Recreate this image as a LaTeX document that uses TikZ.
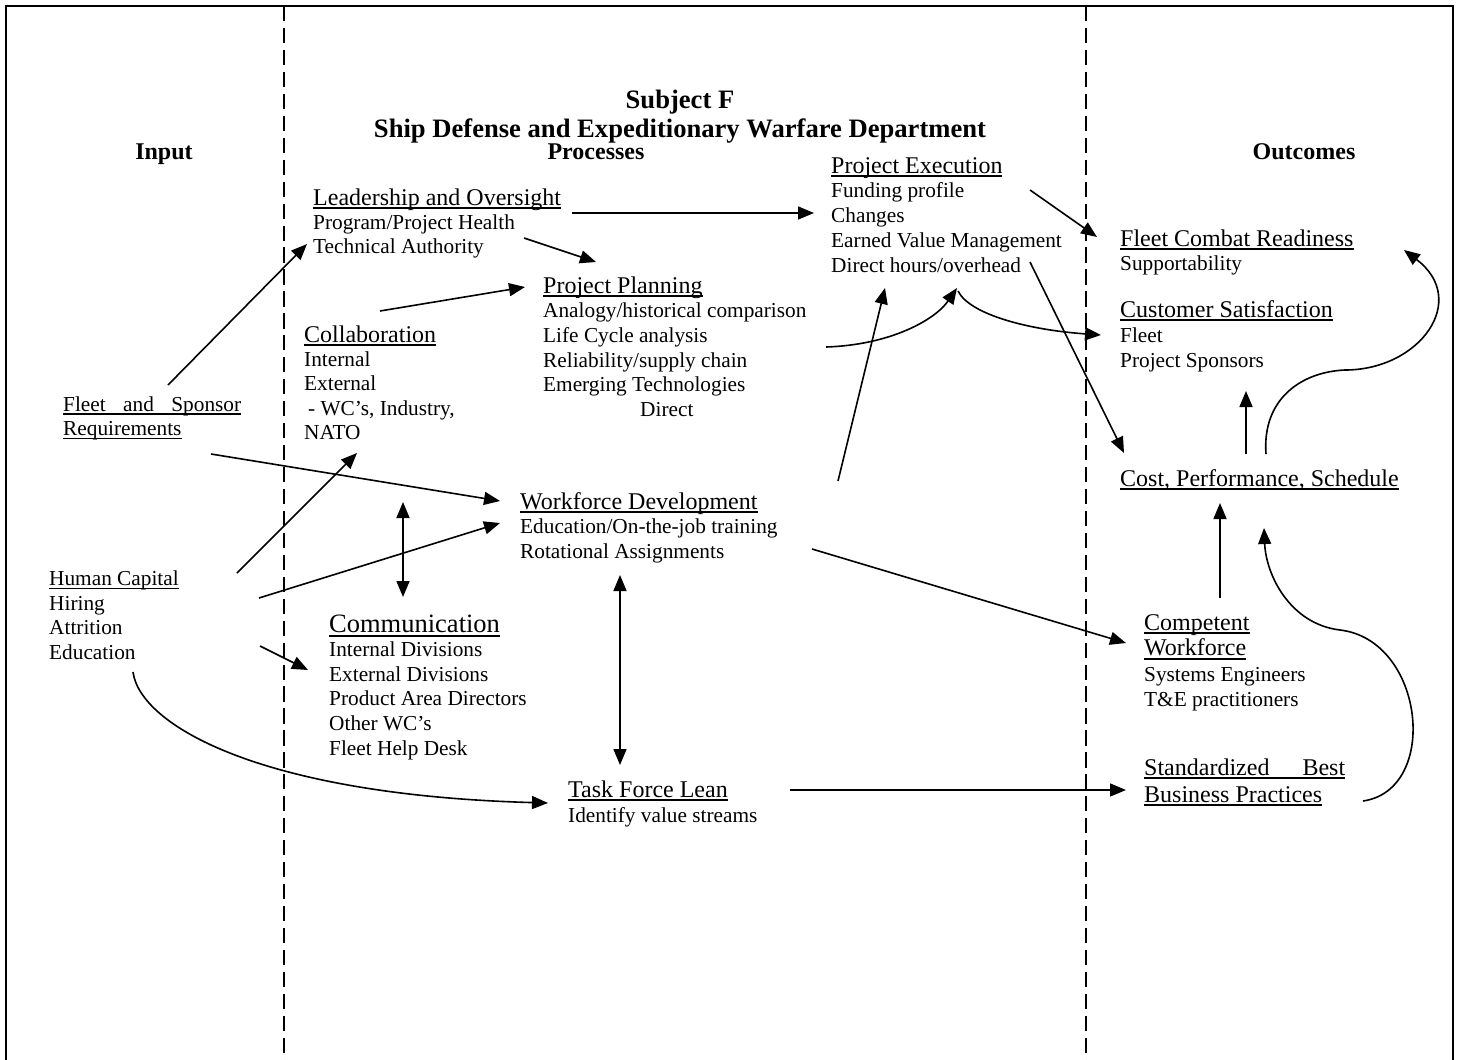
\documentclass[tikz,border=0pt]{standalone}
\usepackage{fontspec}
\setmainfont{Liberation Serif}
\usetikzlibrary{arrows.meta}

% text sizes (1pt of the picture = 1 unit)
\newcommand\txtbody{\fontsize{21.3}{24.5}\selectfont}
\newcommand\txthead{\fontsize{24}{27}\selectfont}
\newcommand\txtbig{\fontsize{26.5}{30}\selectfont}
\newcommand\txttitle{\fontsize{26.6}{30}\selectfont\bfseries}
\newcommand\txtcol{\fontsize{24}{27}\selectfont\bfseries}

% underline at a fixed depth below the baseline
\newcommand\undl[1]{\setbox0=\hbox{#1}\rlap{\rule[-0.17em]{\wd0}{0.075em}}\box0}
% left-aligned lines whose baseline is that of the first line
\newcommand\linesblock[2]{\vtop{\baselineskip=#1\lineskiplimit=-100pt\lineskip=0pt\halign{##\hfil\cr#2\crcr}}}

\begin{document}
\begin{tikzpicture}[x=1pt,y=-1pt,
  txt/.style={inner sep=0pt, anchor=base west, font=\txtbody},
  colhead/.style={inner sep=0pt, anchor=base, font=\txtcol},
  arr/.style={line width=1.6pt, -{Triangle[length=16pt,width=13pt]}},
  darr/.style={line width=1.6pt, {Triangle[length=16pt,width=13pt]}-{Triangle[length=16pt,width=13pt]}},
  divider/.style={line width=2pt, dash pattern=on 15.2pt off 6.75pt}]
\useasboundingbox (0,0) rectangle (1460,1060);

% frame, open at the bottom
\draw[line width=2.2pt] (6,1060) -- (6,6) -- (1453,6) -- (1453,1060);
% column dividers
\draw[divider] (284,6) -- (284,1060);
\draw[divider] (1086,6) -- (1086,1060);

% title
\node[inner sep=0pt, anchor=base, font=\txttitle] (title1) at (680,108) {Subject F};
\node[inner sep=0pt, anchor=base, font=\txttitle] (title2) at (680,137) {Ship Defense and Expeditionary Warfare Department};

% column headings
\node[colhead] (colin) at (164,159) {Input};
\node[colhead] (colproc) at (596,159) {Processes};
\node[colhead] (colout) at (1304,159) {Outcomes};

% inputs
\node[txt] (fsr) at (63,411) {\linesblock{24.5pt}{\undl{\hbox to 178pt{Fleet\hfil and\hfil Sponsor}}\cr\undl{Requirements}}};
\node[txt] (hc) at (49,585.5) {\linesblock{24.6pt}{\undl{Human Capital}\cr Hiring\cr Attrition\cr Education}};

% processes
\node[txt] (lead) at (313,205) {\linesblock{24.4pt}{{\txthead\undl{Leadership and Oversight}}\cr Program/Project Health\cr Technical Authority}};
\node[txt] (plan) at (543,293) {\linesblock{24.7pt}{{\txthead\undl{Project Planning}}\cr Analogy/historical comparison\cr Life Cycle analysis\cr Reliability/supply chain\cr Emerging Technologies\cr\hskip97pt Direct}};
\node[txt] (exec) at (831,173) {\linesblock{24.75pt}{{\txthead\undl{Project Execution}}\cr Funding profile\cr Changes\cr Earned Value Management\cr Direct hours/overhead}};
\node[txt] (collab) at (304,342) {\linesblock{24.4pt}{{\txthead\undl{Collaboration}}\cr Internal\cr External\cr\hskip4pt - WC’s, Industry,\cr NATO}};
\node[txt] (wfd) at (520,509) {\linesblock{24.8pt}{{\txthead\undl{Workforce Development}}\cr Education/On-the-job training\cr Rotational Assignments}};
\node[txt] (comm) at (329,632) {\linesblock{24.6pt}{{\txtbig\undl{Communication}}\cr Internal Divisions\cr External Divisions\cr Product Area Directors\cr Other WC’s\cr Fleet Help Desk}};
\node[txt] (tfl) at (568,797) {\linesblock{25pt}{{\txthead\undl{Task Force Lean}}\cr Identify value streams}};

% outcomes
\node[txt] (fcr) at (1120,246) {\linesblock{24.5pt}{{\txthead\undl{Fleet Combat Readiness}}\cr Supportability}};
\node[txt] (cs) at (1120,317) {\linesblock{25pt}{{\txthead\undl{Customer Satisfaction}}\cr Fleet\cr Project Sponsors}};
\node[txt] (cps) at (1120,486) {{\txthead\undl{Cost, Performance, Schedule}}};
\node[txt] (cw) at (1144,630) {\linesblock{25.5pt}{{\txthead\undl{Competent}}\cr{\txthead\undl{Workforce}}\cr Systems Engineers\cr T\&E practitioners}};
\node[txt] (sbp) at (1144,775) {\linesblock{27pt}{{\txthead\undl{\hbox to 201pt{Standardized\hfil Best}}}\cr{\txthead\undl{Business Practices}}}};

% connector ends
\coordinate (fsrA) at (168,385);   \coordinate (leadIn) at (307,244);
\coordinate (fsrB) at (211,454);   \coordinate (wfdIn1) at (500,501);
\coordinate (hcA) at (237,573);    \coordinate (collabIn) at (357,453);
\coordinate (hcB) at (259,598);    \coordinate (wfdIn2) at (500,523);
\coordinate (hcC) at (260,646);    \coordinate (commIn) at (308,670);
\coordinate (hcD) at (133,672);    \coordinate (tflIn) at (548,803);
\coordinate (collabOut) at (403,502); \coordinate (commTop) at (403,597);
\coordinate (wfdOut) at (620,575); \coordinate (tflTop) at (620,765);
\coordinate (leadA) at (572,213);  \coordinate (execIn1) at (814,213);
\coordinate (leadB) at (524,238);  \coordinate (planIn1) at (596,262);
\coordinate (collabA) at (380,311); \coordinate (planIn2) at (525,287);
\coordinate (planA) at (826,347);  \coordinate (execIn3) at (957,288);
\coordinate (execC) at (958,291);  \coordinate (csIn) at (1101,335);
\coordinate (wfdA) at (838,481);   \coordinate (execIn2) at (885,288);
\coordinate (execA) at (1030,190); \coordinate (fcrIn) at (1097,237);
\coordinate (execB) at (1030,262); \coordinate (cpsIn1) at (1124,453);
\coordinate (cpsA) at (1246,454);  \coordinate (csBot) at (1246,391);
\coordinate (cpsB) at (1266,454);  \coordinate (fcrBack) at (1404,250);
\coordinate (cwTop) at (1220,598); \coordinate (cpsIn2) at (1220,503);
\coordinate (sbpA) at (1363,801);  \coordinate (cpsIn3) at (1264,528);
\coordinate (wfdB) at (812,549);   \coordinate (cwIn) at (1126,643);
\coordinate (tflA) at (790,790);   \coordinate (sbpIn) at (1126,790);

% connectors
\draw[arr] (fsrA) -- (leadIn);
\draw[arr] (fsrB) -- (wfdIn1);
\draw[arr] (hcA) -- (collabIn);
\draw[arr] (hcB) -- (wfdIn2);
\draw[arr] (hcC) -- (commIn);
\draw[arr] (hcD) .. controls (140,725) and (260,795) .. (tflIn);
\draw[darr] (collabOut) -- (commTop);
\draw[darr] (wfdOut) -- (tflTop);
\draw[arr] (leadA) -- (execIn1);
\draw[arr] (leadB) -- (planIn1);
\draw[arr] (collabA) -- (planIn2);
\draw[arr] (planA) .. controls (890,345) and (935,320) .. (execIn3);
\draw[arr] (execC) .. controls (970,315) and (1030,330) .. (csIn);
\draw[arr] (wfdA) -- (execIn2);
\draw[arr] (execA) -- (fcrIn);
\draw[arr] (execB) -- (cpsIn1);
\draw[arr] (cpsA) -- (csBot);
\draw[arr] (cpsB) .. controls (1262,400) and (1300,372) .. (1345,370)
                  .. controls (1420,370) and (1470,300) .. (fcrBack);
\draw[arr] (cwTop) -- (cpsIn2);
\draw[arr] (sbpA) .. controls (1440,790) and (1425,640) .. (1340,630)
                  .. controls (1290,624) and (1266,575) .. (cpsIn3);
\draw[arr] (wfdB) -- (cwIn);
\draw[arr] (tflA) -- (sbpIn);
\end{tikzpicture}
\end{document}
